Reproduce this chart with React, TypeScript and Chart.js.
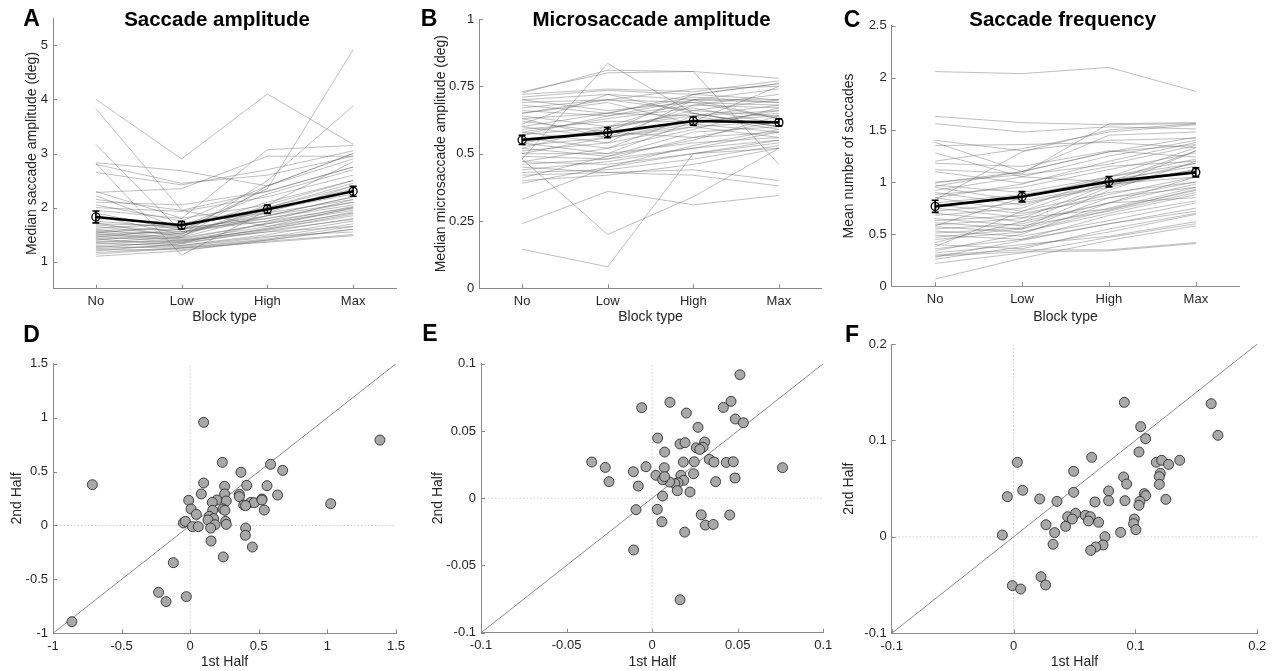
import React, { useEffect, useRef } from "react";
import { Chart, registerables } from "chart.js";

Chart.register(...registerables);

const FONT = "'Liberation Sans', Arial, Helvetica, sans-serif";
const AXIS = "#8a8a8a";
const TEXT = "#262626";
const TICK = 4;

// ---------- DATA ----------
const blockTypes = ["No", "Low", "High", "Max"];

const saccAmpSubjects: number[][] = [
  [4.0, 2.9, 4.1, 3.17], [3.83, 1.95, 2.3, 2.75], [3.17, 1.55, 1.9, 2.4], [2.83, 2.68, 2.4, 2.9],
  [2.82, 1.12, 1.95, 2.25], [2.65, 2.42, 2.7, 3.05], [2.28, 2.35, 2.95, 2.95], [2.22, 1.6, 1.85, 2.2],
  [2.1, 2.05, 2.3, 2.75], [2.0, 1.93, 2.2, 2.6], [1.95, 1.8, 3.07, 3.15], [1.9, 1.58, 2.35, 4.92],
  [1.85, 1.5, 2.5, 3.88], [1.8, 1.7, 2.0, 2.45], [1.75, 1.62, 1.8, 2.1], [1.72, 1.45, 2.4, 3.0],
  [1.7, 1.66, 1.95, 2.3], [1.68, 1.55, 1.75, 2.0], [1.65, 1.48, 2.05, 2.85], [1.62, 1.7, 1.9, 2.15],
  [1.6, 1.42, 1.7, 1.95], [1.58, 1.6, 2.1, 2.5], [1.56, 1.52, 1.85, 2.2], [1.55, 1.4, 1.65, 1.9],
  [1.53, 1.66, 2.25, 2.7], [1.52, 1.38, 1.6, 1.85], [1.5, 1.55, 1.8, 2.05], [1.48, 1.47, 2.0, 2.4],
  [1.47, 1.35, 1.55, 1.8], [1.45, 1.6, 1.75, 2.15], [1.43, 1.44, 1.7, 1.98], [1.42, 1.3, 1.5, 1.75],
  [1.4, 1.52, 1.95, 2.35], [1.38, 1.36, 1.62, 1.92], [1.36, 1.45, 1.85, 2.1], [1.35, 1.28, 1.45, 1.7],
  [1.33, 1.4, 1.55, 1.65], [1.3, 1.34, 1.72, 2.02], [1.28, 1.25, 1.4, 1.6], [1.26, 1.38, 1.6, 1.88],
  [1.24, 1.3, 1.47, 1.55], [1.22, 1.22, 1.38, 1.5], [1.2, 1.33, 1.58, 1.78], [1.17, 1.26, 1.42, 1.65],
  [1.14, 1.25, 1.36, 1.48], [1.1, 1.2, 1.4, 1.6], [2.3, 1.8, 2.05, 2.5], [2.15, 1.95, 1.65, 2.0],
  [2.8, 2.45, 2.6, 2.95], [2.05, 1.75, 2.4, 3.0],
];
const saccAmpMean = [1.827, 1.673, 1.969, 2.302];
const saccAmpSem = [0.11, 0.07, 0.077, 0.093];
const saccAmpTicks = [1, 2, 3, 4, 5];
const saccAmpRange = [0.5, 5.5];

const microAmpSubjects: number[][] = [
  [0.73, 0.8, 0.805, 0.46], [0.725, 0.81, 0.805, 0.78], [0.72, 0.74, 0.73, 0.77], [0.71, 0.735, 0.72, 0.76],
  [0.7, 0.72, 0.7, 0.7], [0.69, 0.7, 0.74, 0.75], [0.68, 0.65, 0.71, 0.69], [0.67, 0.7, 0.69, 0.68],
  [0.66, 0.64, 0.68, 0.72], [0.65, 0.7, 0.66, 0.64], [0.64, 0.6, 0.7, 0.74], [0.63, 0.65, 0.64, 0.66],
  [0.62, 0.58, 0.72, 0.7], [0.61, 0.72, 0.65, 0.6], [0.6, 0.56, 0.68, 0.67], [0.59, 0.62, 0.62, 0.64],
  [0.58, 0.54, 0.6, 0.62], [0.57, 0.6, 0.65, 0.6], [0.56, 0.52, 0.64, 0.68], [0.55, 0.58, 0.56, 0.58],
  [0.54, 0.5, 0.62, 0.65], [0.53, 0.56, 0.6, 0.56], [0.52, 0.49, 0.58, 0.6], [0.51, 0.54, 0.7, 0.63],
  [0.5, 0.5, 0.54, 0.56], [0.49, 0.48, 0.52, 0.55], [0.48, 0.835, 0.65, 0.6], [0.48, 0.2, 0.34, 0.52],
  [0.47, 0.46, 0.5, 0.54], [0.46, 0.48, 0.56, 0.62], [0.45, 0.43, 0.44, 0.4], [0.44, 0.47, 0.52, 0.58],
  [0.43, 0.44, 0.48, 0.53], [0.42, 0.43, 0.42, 0.38], [0.41, 0.49, 0.55, 0.64], [0.4, 0.42, 0.46, 0.52],
  [0.39, 0.45, 0.53, 0.59], [0.33, 0.45, 0.5, 0.52], [0.24, 0.36, 0.31, 0.345], [0.145, 0.08, 0.5, 0.55],
  [0.6, 0.65, 0.72, 0.76], [0.57, 0.64, 0.7, 0.69], [0.54, 0.59, 0.66, 0.7], [0.5, 0.56, 0.61, 0.66],
  [0.58, 0.63, 0.67, 0.61], [0.65, 0.69, 0.61, 0.58], [0.47, 0.52, 0.59, 0.67], [0.52, 0.6, 0.64, 0.59],
  [0.7, 0.66, 0.69, 0.63], [0.63, 0.56, 0.62, 0.75],
];
const microAmpMean = [0.551, 0.578, 0.621, 0.616];
const microAmpSem = [0.017, 0.019, 0.015, 0.013];
const microAmpTicks = [0, 0.25, 0.5, 0.75, 1];
const microAmpRange = [0, 1];

const saccFreqSubjects: number[][] = [
  [2.06, 2.04, 2.1, 1.87], [1.63, 1.57, 1.55, 1.56], [1.56, 1.48, 1.53, 1.51], [1.4, 1.3, 1.4, 1.42],
  [1.38, 1.1, 1.29, 1.36], [1.35, 1.36, 1.38, 1.33], [1.28, 1.05, 1.0, 1.3], [1.18, 1.15, 1.3, 1.24],
  [1.12, 1.08, 1.56, 1.57], [1.1, 0.99, 1.15, 1.2], [1.0, 1.07, 1.17, 1.35], [0.99, 1.1, 1.45, 1.48],
  [0.97, 0.9, 1.05, 1.18], [0.95, 0.82, 0.97, 1.1], [0.92, 1.05, 1.25, 1.4], [0.9, 0.78, 0.98, 1.05],
  [0.88, 0.95, 1.12, 1.28], [0.85, 0.72, 0.9, 1.0], [0.83, 1.29, 1.5, 1.56], [0.8, 0.88, 1.02, 1.15],
  [0.78, 0.7, 0.85, 0.95], [0.75, 0.66, 0.74, 0.92], [0.72, 0.8, 0.95, 1.12], [0.7, 0.62, 0.8, 0.85],
  [0.68, 0.75, 1.05, 1.22], [0.65, 0.58, 0.72, 0.9], [0.63, 0.68, 0.88, 1.05], [0.61, 0.55, 0.75, 0.95],
  [0.59, 0.65, 0.98, 1.12], [0.57, 0.52, 0.7, 0.88], [0.55, 0.6, 0.8, 0.98], [0.53, 0.48, 0.63, 0.8],
  [0.51, 0.56, 0.92, 1.2], [0.49, 0.45, 0.6, 0.75], [0.47, 0.55, 0.85, 1.0], [0.45, 0.52, 0.73, 0.93],
  [0.42, 0.62, 0.95, 1.3], [0.4, 0.36, 0.55, 0.7], [0.38, 0.72, 1.0, 1.18], [0.36, 0.45, 0.68, 0.82],
  [0.34, 0.5, 0.8, 1.05], [0.32, 0.4, 0.48, 0.62], [0.3, 0.35, 0.35, 0.42], [0.29, 0.33, 0.34, 0.41],
  [0.28, 0.44, 0.6, 0.72], [0.26, 0.38, 0.52, 0.69], [0.22, 0.32, 0.47, 0.6], [0.07, 0.27, 0.44, 0.58],
  [0.96, 1.1, 1.29, 1.43], [0.58, 0.85, 1.05, 1.33], [0.85, 0.98, 1.2, 1.38], [1.2, 1.32, 1.48, 1.55],
];
const saccFreqMean = [0.767, 0.86, 1.004, 1.093];
const saccFreqSem = [0.058, 0.05, 0.05, 0.043];
const saccFreqTicks = [0, 0.5, 1, 1.5, 2, 2.5];
const saccFreqRange = [0, 2.5];

const ampFirstHalf = [0.098, 1.383, -0.713, 1.024, -0.862, 0.234, 0.37, 0.586, 0.674, 0.251, 0.098, 0.412, 0.56, 0.081, 0.251, 0.358, 0.358, 0.637, -0.011, 0.195, 0.161, 0.263, 0.441, 0.467, 0.523, 0.523, 0.39, 0.404, 0.006, 0.164, 0.239, 0.253, 0.54, 0.045, 0.139, 0.171, 0.13, -0.05, -0.035, 0.258, 0.263, 0.181, 0.016, 0.059, 0.149, 0.404, 0.402, 0.152, 0.453, 0.241, -0.123, -0.23, -0.176, -0.028];
const ampSecondHalf = [0.956, 0.792, 0.378, 0.202, -0.892, 0.585, 0.493, 0.567, 0.511, 0.363, 0.394, 0.372, 0.369, 0.292, 0.292, 0.289, 0.267, 0.282, 0.233, 0.236, 0.214, 0.227, 0.214, 0.211, 0.245, 0.236, 0.19, 0.184, 0.153, 0.14, 0.153, 0.14, 0.143, 0.103, 0.085, 0.063, 0.051, 0.023, 0.038, 0.038, 0.01, 0.007, -0.011, -0.011, -0.024, -0.024, -0.091, -0.144, -0.2, -0.292, -0.345, -0.62, -0.706, -0.66];
const ampHalfTicks = [-1, -0.5, 0, 0.5, 1, 1.5];

const microFirstHalf = [0.0513, 0.0461, 0.0104, -0.0061, 0.02, 0.0416, 0.0486, 0.0533, 0.0268, 0.0032, 0.0163, 0.0192, 0.0307, 0.0258, 0.0297, 0.0278, 0.0073, -0.0353, -0.0274, -0.0252, -0.011, -0.0036, -0.0081, 0.0022, 0.0071, 0.0182, 0.0246, 0.0334, 0.0361, 0.0433, 0.0474, 0.0762, 0.0484, 0.0371, 0.0242, 0.0168, 0.0184, 0.0151, 0.0133, 0.0102, 0.0061, 0.0073, 0.0147, 0.0221, 0.0061, -0.0094, 0.003, 0.0057, 0.0287, 0.0311, 0.0357, 0.0453, 0.019, -0.0108, 0.0163];
const microSecondHalf = [0.0918, 0.072, 0.0713, 0.0673, 0.0633, 0.0675, 0.0589, 0.0561, 0.0527, 0.0447, 0.0403, 0.0413, 0.0418, 0.0375, 0.0378, 0.0363, 0.0343, 0.0269, 0.0229, 0.0123, 0.0197, 0.0234, 0.009, 0.017, 0.0227, 0.0269, 0.0271, 0.0289, 0.0269, 0.0266, 0.0271, 0.0227, 0.015, 0.0123, 0.0182, 0.017, 0.0133, 0.0115, 0.0108, 0.012, 0.0138, 0.016, 0.0056, 0.0046, 0.0016, -0.0085, -0.0083, -0.0175, -0.0123, -0.02, -0.0195, -0.0125, -0.0252, -0.0385, -0.0755];
const microHalfTicks = [-0.1, -0.05, 0, 0.05, 0.1];

const freqFirstHalf = [0.0909, 0.1622, 0.1677, 0.1043, 0.1084, 0.1029, 0.0641, 0.0031, 0.0493, 0.1171, 0.1215, 0.1272, 0.1363, 0.1204, 0.1196, 0.0903, 0.0928, 0.1196, -0.0051, 0.0075, 0.0493, 0.078, 0.1073, 0.1084, 0.1037, 0.1029, 0.0214, 0.0356, 0.0668, 0.078, 0.0914, 0.125, 0.0444, 0.0509, 0.0482, 0.0589, 0.063, 0.0614, 0.0698, 0.0266, 0.0991, 0.0985, 0.1004, 0.0879, 0.0337, 0.0427, -0.0092, 0.075, 0.0324, 0.0734, 0.0674, 0.0633, 0.0225, -0.001, 0.0058, 0.0263];
const freqSecondHalf = [0.1395, 0.1381, 0.1053, 0.1143, 0.1018, 0.088, 0.0825, 0.0773, 0.068, 0.0773, 0.0794, 0.0752, 0.0794, 0.0659, 0.0624, 0.0621, 0.0548, 0.0545, 0.0417, 0.0483, 0.0462, 0.0476, 0.0448, 0.0427, 0.0368, 0.0327, 0.0393, 0.0368, 0.0362, 0.0375, 0.0375, 0.0389, 0.0209, 0.0244, 0.0185, 0.0223, 0.0209, 0.0165, 0.0151, 0.0126, 0.0185, 0.0137, 0.0075, 0.0047, 0.0044, 0.0109, 0.0019, 0.0002, -0.0077, -0.0084, -0.0105, -0.014, -0.0413, -0.0506, -0.0541, -0.0499];
const freqHalfTicks = [-0.1, 0, 0.1, 0.2];

// ---------- LAYOUT ----------
type PanelCfg = {
  canvas: [number, number, number, number];
  area: [number, number, number, number];
  letter: string;
  letterAt: [number, number];
  title?: string;
  titleAt?: [number, number];
  xTitle: string;
  xTitleY: number;
  yTitle: string;
  yTitleX: number;
};

type Kind =
  | { kind: "line"; subjects: number[][]; mean: number[]; sem: number[]; ticks: number[]; range: number[] }
  | { kind: "scatter"; xs: number[]; ys: number[]; ticks: number[] };

const panels: { cfg: PanelCfg; spec: Kind }[] = [
  {
    cfg: { canvas: [0, 0, 425, 330], area: [53, 18.3, 396, 288.7], letter: "A", letterAt: [31.5, 26], title: "Saccade amplitude", titleAt: [217, 25.5], xTitle: "Block type", xTitleY: 317, yTitle: "Median saccade amplitude (deg)", yTitleX: 32 },
    spec: { kind: "line", subjects: saccAmpSubjects, mean: saccAmpMean, sem: saccAmpSem, ticks: saccAmpTicks, range: saccAmpRange },
  },
  {
    cfg: { canvas: [405, 0, 425, 330], area: [479.3, 19, 821.7, 288.3], letter: "B", letterAt: [429, 26], title: "Microsaccade amplitude", titleAt: [651.5, 25.5], xTitle: "Block type", xTitleY: 317, yTitle: "Median microsaccade amplitude (deg)", yTitleX: 441.5 },
    spec: { kind: "line", subjects: microAmpSubjects, mean: microAmpMean, sem: microAmpSem, ticks: microAmpTicks, range: microAmpRange },
  },
  {
    cfg: { canvas: [830, 0, 444, 330], area: [891.7, 25.7, 1239.3, 286.3], letter: "C", letterAt: [852, 27], title: "Saccade frequency", titleAt: [1062.7, 25.5], xTitle: "Block type", xTitleY: 317, yTitle: "Mean number of saccades", yTitleX: 849.5 },
    spec: { kind: "line", subjects: saccFreqSubjects, mean: saccFreqMean, sem: saccFreqSem, ticks: saccFreqTicks, range: saccFreqRange },
  },
  {
    cfg: { canvas: [0, 312, 425, 359], area: [53, 363.7, 396, 633.3], letter: "D", letterAt: [31.5, 342], xTitle: "1st Half", xTitleY: 661.7, yTitle: "2nd Half", yTitleX: 16.7 },
    spec: { kind: "scatter", xs: ampFirstHalf, ys: ampSecondHalf, ticks: ampHalfTicks },
  },
  {
    cfg: { canvas: [405, 312, 445, 359], area: [481, 363.7, 823.3, 632.7], letter: "E", letterAt: [430, 341], xTitle: "1st Half", xTitleY: 661.7, yTitle: "2nd Half", yTitleX: 438 },
    spec: { kind: "scatter", xs: microFirstHalf, ys: microSecondHalf, ticks: microHalfTicks },
  },
  {
    cfg: { canvas: [830, 312, 444, 359], area: [891.7, 344, 1257.3, 633.3], letter: "F", letterAt: [852, 342], xTitle: "1st Half", xTitleY: 663, yTitle: "2nd Half", yTitleX: 849.5 },
    spec: { kind: "scatter", xs: freqFirstHalf, ys: freqSecondHalf, ticks: freqHalfTicks },
  },
];

function decorPlugin(cfg: PanelCfg, err?: { mean: number[]; sem: number[] }) {
  const [cl, ct] = cfg.canvas;
  return {
    id: "decor",
    afterDatasetsDraw(chart: any) {
      const { ctx, chartArea } = chart;
      const xs = chart.scales.x;
      const ys = chart.scales.y;
      ctx.save();
      if (err) {
        ctx.strokeStyle = "#000";
        ctx.lineWidth = 1.6;
        err.mean.forEach((m, i) => {
          const px = xs.getPixelForValue(i);
          const t = ys.getPixelForValue(m + err.sem[i]);
          const b = ys.getPixelForValue(m - err.sem[i]);
          ctx.beginPath();
          ctx.moveTo(px, t);
          ctx.lineTo(px, b);
          ctx.moveTo(px - 3.5, t);
          ctx.lineTo(px + 3.5, t);
          ctx.moveTo(px - 3.5, b);
          ctx.lineTo(px + 3.5, b);
          ctx.stroke();
        });
      }
      ctx.strokeStyle = AXIS;
      ctx.lineWidth = 1;
      ctx.beginPath();
      xs.ticks.forEach((_: any, i: number) => {
        const px = Math.round(xs.getPixelForTick(i)) + 0.5;
        ctx.moveTo(px, chartArea.bottom);
        ctx.lineTo(px, chartArea.bottom - TICK);
      });
      ys.ticks.forEach((_: any, i: number) => {
        const py = Math.round(ys.getPixelForTick(i)) + 0.5;
        ctx.moveTo(chartArea.left, py);
        ctx.lineTo(chartArea.left + TICK, py);
      });
      ctx.stroke();
      ctx.fillStyle = "#000";
      ctx.textAlign = "center";
      ctx.textBaseline = "alphabetic";
      ctx.font = `bold 23px ${FONT}`;
      ctx.fillText(cfg.letter, cfg.letterAt[0] - cl, cfg.letterAt[1] - ct);
      if (cfg.title && cfg.titleAt) {
        ctx.font = `bold 20.5px ${FONT}`;
        ctx.fillText(cfg.title, cfg.titleAt[0] - cl, cfg.titleAt[1] - ct);
      }
      ctx.restore();
    },
  };
}

function linearAxis(ticks: number[], min: number, max: number) {
  return {
    type: "linear",
    min,
    max,
    afterBuildTicks: (s: any) => {
      s.ticks = ticks.map((v) => ({ value: v }));
    },
    ticks: { callback: (v: any) => String(v) },
  };
}

function buildConfig(cfg: PanelCfg, spec: Kind): any {
  const [cl, ct, cw, ch] = cfg.canvas;
  const [al, at, ar, ab] = cfg.area;
  const leftW = al - cl;
  const topPad = at - ct;
  const rightPad = cl + cw - ar;
  const bottomH = ct + ch - ab;
  const tickFont = { family: FONT, size: 13 };
  const titleFont = { family: FONT, size: 14 };
  const common = {
    grid: { display: false, drawTicks: false },
    border: { display: true, color: AXIS, width: 1 },
  };

  let xAxis: any;
  let yAxis: any;
  let data: any;
  let type: string;
  let plugin: any;

  if (spec.kind === "line") {
    type = "line";
    xAxis = { type: "category", labels: blockTypes, offset: true };
    yAxis = linearAxis(spec.ticks, spec.range[0], spec.range[1]);
    data = {
      labels: blockTypes,
      datasets: [
        {
          data: spec.mean,
          borderColor: "#000",
          borderWidth: 2.6,
          pointRadius: 4,
          pointBorderWidth: 1.3,
          pointBackgroundColor: "rgba(255,255,255,0)",
          pointBorderColor: "#000",
          tension: 0,
        },
        ...spec.subjects.map((s) => ({
          data: s,
          borderColor: "rgba(95,95,95,0.5)",
          borderWidth: 0.8,
          pointRadius: 0,
          tension: 0,
        })),
      ],
    };
    plugin = decorPlugin(cfg, { mean: spec.mean, sem: spec.sem });
  } else {
    type = "scatter";
    const lo = spec.ticks[0];
    const hi = spec.ticks[spec.ticks.length - 1];
    xAxis = linearAxis(spec.ticks, lo, hi);
    yAxis = linearAxis(spec.ticks, lo, hi);
    const n = Math.min(spec.xs.length, spec.ys.length);
    const pts = [];
    for (let i = 0; i < n; i++) pts.push({ x: spec.xs[i], y: spec.ys[i] });
    data = {
      datasets: [
        {
          data: pts,
          backgroundColor: "#a8a8a8",
          borderColor: "#1e1e1e",
          borderWidth: 0.8,
          pointRadius: 5,
        },
        {
          data: [{ x: lo, y: lo }, { x: hi, y: hi }],
          showLine: true,
          borderColor: "#8c8c8c",
          borderWidth: 1,
          pointRadius: 0,
        },
        {
          data: [{ x: lo, y: 0 }, { x: hi, y: 0 }],
          showLine: true,
          borderColor: "#c4c4c4",
          borderWidth: 0.8,
          borderDash: [1.5, 2],
          pointRadius: 0,
        },
        {
          data: [{ x: 0, y: lo }, { x: 0, y: hi }],
          showLine: true,
          borderColor: "#c4c4c4",
          borderWidth: 0.8,
          borderDash: [1.5, 2],
          pointRadius: 0,
        },
      ],
    };
    plugin = decorPlugin(cfg);
  }

  return {
    type,
    data,
    plugins: [plugin],
    options: {
      responsive: false,
      maintainAspectRatio: false,
      animation: false,
      events: [],
      layout: { padding: { left: 0, top: topPad, right: rightPad, bottom: 0 } },
      plugins: { legend: { display: false }, tooltip: { enabled: false }, title: { display: false } },
      scales: {
        x: {
          ...xAxis,
          ...common,
          ticks: { ...(xAxis.ticks || {}), color: TEXT, font: tickFont, padding: 5, maxRotation: 0, autoSkip: false },
          title: {
            display: true,
            text: cfg.xTitle,
            color: TEXT,
            font: titleFont,
            padding: { top: 0, bottom: Math.max(0, ct + ch - cfg.xTitleY - 8.4) },
          },
          afterFit: (s: any) => {
            s.height = bottomH;
          },
        },
        y: {
          ...yAxis,
          ...common,
          ticks: { ...(yAxis.ticks || {}), color: TEXT, font: tickFont, padding: 5, autoSkip: false },
          title: {
            display: true,
            text: cfg.yTitle,
            color: TEXT,
            font: titleFont,
            padding: { top: Math.max(0, cfg.yTitleX - cl - 8.4), bottom: 0 },
          },
          afterFit: (s: any) => {
            s.width = leftW;
          },
        },
      },
    },
  };
}

function PanelChart({ cfg, spec }: { cfg: PanelCfg; spec: Kind }) {
  const ref = useRef<HTMLCanvasElement | null>(null);
  useEffect(() => {
    if (!ref.current) return;
    const chart = new Chart(ref.current, buildConfig(cfg, spec));
    return () => chart.destroy();
  }, [cfg, spec]);
  const [l, t, w, h] = cfg.canvas;
  return (
    <canvas
      ref={ref}
      width={w}
      height={h}
      style={{ position: "absolute", left: l, top: t, width: w, height: h }}
    />
  );
}

export default function App() {
  return (
    <div style={{ position: "absolute", left: 0, top: 0, width: 1274, height: 671, background: "#fff" }}>
      {panels.map((p, i) => (
        <PanelChart key={i} cfg={p.cfg} spec={p.spec} />
      ))}
    </div>
  );
}
